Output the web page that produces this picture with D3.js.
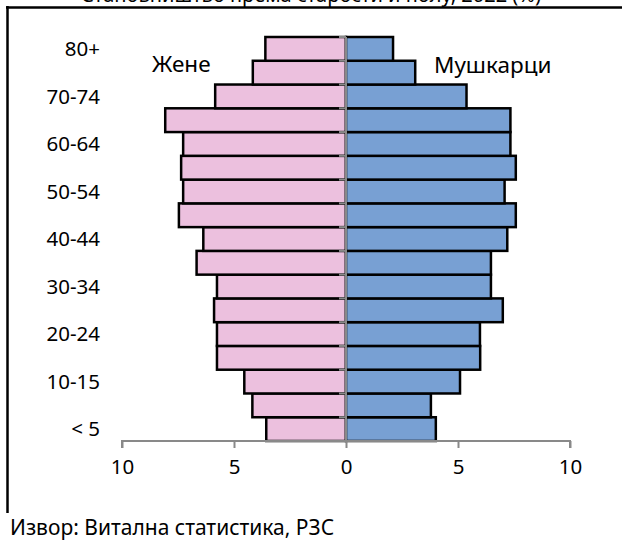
<!DOCTYPE html>
<html>
<head>
<meta charset="utf-8">
<script src="https://cdn.jsdelivr.net/npm/d3@7"></script>
<style>
  html, body { margin: 0; padding: 0; background: #fff; }
  svg { display: block; }
  text { font-family: "Noto Sans", "Open Sans", sans-serif; fill: #000; }
</style>
</head>
<body>
<svg id="chart" width="622" height="540"></svg>
<script>
// Age groups, bottom to top
const categories = ["< 5","5-9","10-15","15-19","20-24","25-29","30-34","35-39","40-44","45-49","50-54","55-59","60-64","65-69","70-74","75-79","80+"];
// Women (%) per age group
const women = [3.56, 4.18, 4.54, 5.76, 5.76, 5.89, 5.76, 6.67, 6.37, 7.46, 7.27, 7.36, 7.27, 8.07, 5.84, 4.16, 3.6];
// Men (%) per age group
const men = [4.01, 3.79, 5.09, 5.99, 5.98, 7.0, 6.47, 6.47, 7.2, 7.58, 7.08, 7.58, 7.34, 7.34, 5.38, 3.09, 2.1];
// X tick values and labels
const xTicks = [-10, -5, 0, 5, 10];
const xTickLabels = ["10", "5", "0", "5", "10"];
const seriesNames = ["Жене", "Мушкарци"];
const title = "Становништво према старости и полу, 2022 (%)";
const source = "Извор: Витална статистика, РЗС";

const svg = d3.select("#chart");
const cx0 = 122, cx1 = 570, yTop = 37, yBot = 441;

const x = d3.scaleLinear().domain([-10, 10]).range([cx0, cx1]);
const y = d3.scaleBand().domain(categories.slice().reverse()).range([yTop, yBot]).paddingInner(0).paddingOuter(0);

// Title (cut off at top, as in reference)
svg.append("text").attr("x", 311).attr("y", 1.5).attr("text-anchor", "middle")
  .attr("font-size", 20).attr("fill", "#000").text(title);

// Frame
svg.append("line").attr("x1", 6).attr("x2", 622).attr("y1", 7.5).attr("y2", 7.5)
  .attr("stroke", "#000").attr("stroke-width", 2.5);
svg.append("line").attr("x1", 7.5).attr("x2", 7.5).attr("y1", 6).attr("y2", 513)
  .attr("stroke", "#000").attr("stroke-width", 2.5);

const data = categories.map((c, i) => ({ c, w: women[i], m: men[i] }));

// Women bars
svg.append("g").selectAll("rect").data(data).join("rect")
  .attr("x", d => x(-d.w)).attr("width", d => x(0) - x(-d.w))
  .attr("y", d => y(d.c)).attr("height", y.bandwidth())
  .attr("fill", "#ECC0DE").attr("stroke", "#000").attr("stroke-width", 2.5);

// Men bars
svg.append("g").selectAll("rect").data(data).join("rect")
  .attr("x", x(0)).attr("width", d => x(d.m) - x(0))
  .attr("y", d => y(d.c)).attr("height", y.bandwidth())
  .attr("fill", "#78A0D3").attr("stroke", "#000").attr("stroke-width", 2.5);

// Central vertical axis
const axisColor = "#898989";
svg.append("line").attr("x1", x(0)).attr("x2", x(0)).attr("y1", yTop).attr("y2", yBot)
  .attr("stroke", axisColor).attr("stroke-width", 2);
const bounds = categories.map(c => y(c)).concat([yBot]);
svg.append("g").selectAll("line").data(bounds).join("line")
  .attr("x1", x(0) - 7).attr("x2", x(0)).attr("y1", d => d).attr("y2", d => d)
  .attr("stroke", axisColor).attr("stroke-width", 2);

// Category labels (every other)
svg.append("g").selectAll("text").data(categories.filter((c, i) => i % 2 === 0)).join("text")
  .attr("x", 100).attr("y", d => y(d) + y.bandwidth() / 2)
  .attr("dy", "0.36em").attr("text-anchor", "end").attr("font-size", 20.5).text(d => d);

// Bottom axis
const xAxis = d3.axisBottom(x).tickValues(xTicks).tickSize(7).tickFormat((d, i) => xTickLabels[i]);
const gx = svg.append("g").attr("transform", `translate(0,${yBot})`).call(xAxis);
gx.select(".domain").attr("stroke", axisColor).attr("stroke-width", 2)
  .attr("d", `M${cx0},7V0H${cx1}V7`);
gx.selectAll(".tick line").attr("stroke", axisColor).attr("stroke-width", 2);
gx.selectAll(".tick text").attr("font-size", 20.5).attr("font-family", "Noto Sans, sans-serif")
  .attr("fill", "#000").attr("y", 18).attr("dy", "0.71em");

// Series labels
svg.append("text").attr("x", 152).attr("y", 71.5).attr("font-size", 22.5).text(seriesNames[0]);
svg.append("text").attr("x", 434).attr("y", 73).attr("font-size", 22.5).text(seriesNames[1]);

// Source
svg.append("text").attr("x", 10).attr("y", 535).attr("font-size", 21).text(source);
</script>
</body>
</html>
